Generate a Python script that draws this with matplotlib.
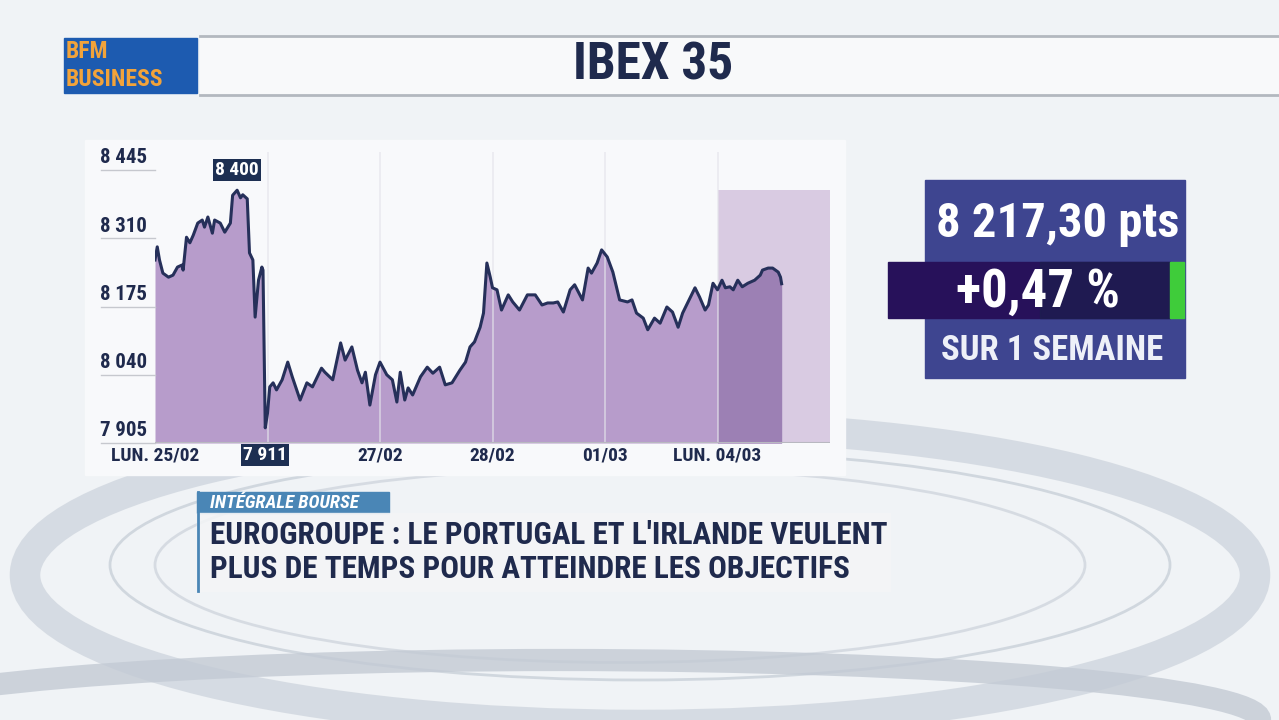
import matplotlib
matplotlib.use("Agg")
import matplotlib.pyplot as plt
import matplotlib.transforms as mtransforms
from matplotlib.patches import Rectangle, Ellipse

plt.rcParams['font.family'] = ['Roboto Condensed', 'Liberation Sans', 'DejaVu Sans']

# IBEX 35 intraday, x in trading days since Mon 25/02 (0 = open 25/02)
days = [0.00, 0.02, 0.04, 0.07, 0.12, 0.16, 0.20, 0.24, 0.25, 0.28, 0.31, 0.34,
        0.38, 0.42, 0.44, 0.47, 0.51, 0.53, 0.58, 0.62, 0.67, 0.69, 0.73, 0.76,
        0.78, 0.82, 0.84, 0.87, 0.89, 0.92, 0.95, 0.96, 0.98, 1.00, 1.02, 1.05,
        1.08, 1.13, 1.18, 1.22, 1.29, 1.35, 1.40, 1.48, 1.51, 1.58, 1.65, 1.69,
        1.75, 1.80, 1.84, 1.87, 1.91, 1.96, 2.00, 2.06, 2.11, 2.15, 2.18, 2.22,
        2.25, 2.29, 2.36, 2.42, 2.47, 2.53, 2.58, 2.64, 2.71, 2.76, 2.80, 2.84,
        2.89, 2.92, 2.95, 2.98, 3.00, 3.04, 3.08, 3.14, 3.18, 3.24, 3.31, 3.38,
        3.44, 3.49, 3.54, 3.58, 3.63, 3.69, 3.73, 3.80, 3.85, 3.88, 3.93, 3.97,
        4.02, 4.07, 4.13, 4.20, 4.24, 4.28, 4.34, 4.38, 4.44, 4.49, 4.55, 4.60,
        4.65, 4.69, 4.76, 4.80, 4.84, 4.89, 4.92, 4.96, 5.00, 5.04, 5.07, 5.11,
        5.14, 5.18, 5.22, 5.27, 5.33, 5.38, 5.40, 5.45, 5.49, 5.54, 5.56, 5.57]
prices = [8267, 8293, 8267, 8241, 8233, 8237, 8253, 8257, 8247, 8312, 8301, 8316,
          8340, 8346, 8332, 8352, 8320, 8346, 8340, 8322, 8340, 8395, 8405, 8390,
          8396, 8388, 8281, 8267, 8154, 8227, 8253, 8247, 7935, 7964, 8016, 8024,
          8010, 8030, 8065, 8036, 7990, 8024, 8016, 8053, 8045, 8030, 8103, 8069,
          8095, 8049, 8024, 8045, 7980, 8040, 8065, 8040, 8030, 7986, 8045, 7990,
          8014, 8000, 8036, 8055, 8043, 8055, 8020, 8024, 8049, 8065, 8095, 8105,
          8134, 8162, 8261, 8233, 8212, 8208, 8168, 8198, 8184, 8168, 8198, 8198,
          8178, 8182, 8182, 8184, 8164, 8208, 8218, 8188, 8251, 8241, 8261, 8287,
          8273, 8243, 8188, 8184, 8188, 8162, 8152, 8129, 8152, 8142, 8174, 8164,
          8134, 8162, 8194, 8212, 8194, 8168, 8178, 8221, 8208, 8227, 8212, 8214,
          8208, 8227, 8214, 8221, 8227, 8237, 8247, 8251, 8251, 8243, 8233, 8220]

y_ticks = [7905, 8040, 8175, 8310, 8445]
y_labels = ["7 905", "8 040", "8 175", "8 310", "8 445"]
x_ticks = [0, 2, 3, 4, 5]
x_labels = ["LUN. 25/02", "27/02", "28/02", "01/03", "LUN. 04/03"]
high_day, high_label = 0.73, "8 400"
low_day, low_label = 0.98, "7 911"

last_value = "8 217,30 pts"
change = "+0,47 %"
period = "SUR 1 SEMAINE"
title = "IBEX 35"
headline = ["EUROGROUPE : LE PORTUGAL ET L'IRLANDE VEULENT",
            "PLUS DE TEMPS POUR ATTEINDRE LES OBJECTIFS"]

NAVY = "#1f2a4d"

fig = plt.figure(figsize=(12.79, 7.2), dpi=100)
fig.patch.set_facecolor("#f0f3f6")

# decorative background in pixel coordinates
bg = fig.add_axes([0, 0, 1, 1], zorder=0)
bg.set_xlim(0, 1279)
bg.set_ylim(720, 0)
bg.axis("off")
for (cx, cy, w, h, lw, col, a) in [(640, 575, 1230, 300, 22, "#d3d9e1", 0.9),
                                   (640, 565, 1060, 230, 2, "#c9d0d9", 0.8),
                                   (620, 565, 930, 195, 2, "#d0d6de", 0.8),
                                   (560, 720, 1400, 120, 16, "#c3cad4", 0.8)]:
    bg.add_patch(Ellipse((cx, cy), w, h, fill=False, lw=lw, ec=col, alpha=a))
bg.add_patch(Rectangle((85, 140), 760, 335, color="#f8f9fb"))

# header band
bg.add_patch(Rectangle((200, 36), 1079, 58, color="#f8f9fa"))
bg.plot([200, 1279], [36, 36], color="#b3b8bf", lw=2)
bg.plot([200, 1279], [95, 95], color="#b3b8bf", lw=2)
bg.text(653, 66, title, ha="center", va="center", fontsize=37,
        fontweight="bold", color=NAVY)
bg.add_patch(Rectangle((64, 38), 133, 55, color="#1d5bb0"))
bg.text(66, 52, "BFM", ha="left", va="center", fontsize=17, fontweight="bold",
        color="#f2a33a")
bg.text(66, 79, "BUSINESS", ha="left", va="center", fontsize=17,
        fontweight="bold", color="#f2a33a")

# right summary panel
bg.add_patch(Rectangle((925, 180), 260, 198, color="#3e4590"))
bg.text(1058, 224, last_value, ha="center", va="center", fontsize=35,
        fontweight="bold", color="white")
bg.add_patch(Rectangle((888, 262), 282, 56, color="#27115a"))
bg.add_patch(Rectangle((1040, 262), 130, 56, color="#1d1f4e", alpha=0.7))
bg.add_patch(Rectangle((1170, 262), 14, 56, color="#3fcc3a"))
bg.text(1038, 292, change, ha="center", va="center", fontsize=38,
        fontweight="bold", color="white")
bg.text(1052, 350, period, ha="center", va="center", fontsize=25,
        fontweight="bold", color="#eef0f8")

# news banner
bg.add_patch(Rectangle((197, 492), 192, 21, color="#4a86b6"))
bg.text(210, 503, "INTÉGRALE BOURSE", ha="left", va="center", fontsize=13.5,
        style="italic", fontweight="bold", color="white")
bg.add_patch(Rectangle((197, 513), 693, 78, color="#f4f5f7", alpha=0.85))
bg.plot([198, 198], [492, 591], color="#4a86b6", lw=2)
bg.text(210, 535, headline[0], ha="left", va="center", fontsize=22.5,
        fontweight="bold", color=NAVY)
bg.text(210, 569, headline[1], ha="left", va="center", fontsize=22.5,
        fontweight="bold", color=NAVY)

# price chart
y_top = 7905 + (443 - 152) * 540 / 273
ax = fig.add_axes([155 / 1279, 1 - 443 / 720, 675 / 1279, 291 / 720], zorder=2)
ax.set_xlim(0, 6)
ax.set_ylim(7905, y_top)
ax.patch.set_alpha(0)
for s in ax.spines.values():
    s.set_visible(False)
ax.set_xticks([])
ax.set_yticks([])

ax.axvspan(5, 6, ymax=(8405 - 7905) / (y_top - 7905), color="#d9cbe2", lw=0, zorder=1)
ax.fill_between(days, prices, 7905, color="#b79ccb", lw=0, zorder=2)
last_days = [d for d in days if d >= 5]
last_prices = prices[len(days) - len(last_days):]
ax.fill_between(last_days, last_prices, 7905, color="#9c80b4", lw=0, zorder=2)
for d in [1, 2, 3, 4, 5]:
    ax.axvline(d, color="#e4e4ea", lw=1.2, alpha=0.7, zorder=3)
ax.plot(days, prices, color="#26305a", lw=2.2, zorder=4)
ax.axhline(7905, color="#b8b8c0", lw=1.5, zorder=4)

trans = mtransforms.blended_transform_factory(ax.transAxes, ax.transData)
for v, lab in zip(y_ticks, y_labels):
    ax.plot([-0.08, 0], [v, v], transform=trans, color="#c6c8ce", lw=1,
            clip_on=False)
    ax.text(-0.012, v + 5, lab, transform=trans, ha="right", va="bottom",
            fontsize=15, fontweight="bold", color=NAVY)

for d, lab in zip(x_ticks, x_labels):
    ax.text(d, 7905 - 6, lab, ha="center", va="top", fontsize=14,
            fontweight="bold", color=NAVY)

ax.text(low_day, 7905 - 6, low_label, ha="center", va="top", fontsize=14,
        fontweight="bold", color="white",
        bbox=dict(boxstyle="square,pad=0.1", fc="#1d2f52", ec="none"))
ax.text(high_day, 8428, high_label, ha="center", va="bottom", fontsize=14,
        fontweight="bold", color="white",
        bbox=dict(boxstyle="square,pad=0.1", fc="#1d2f52", ec="none"))

fig.savefig("out.png", dpi=100)
